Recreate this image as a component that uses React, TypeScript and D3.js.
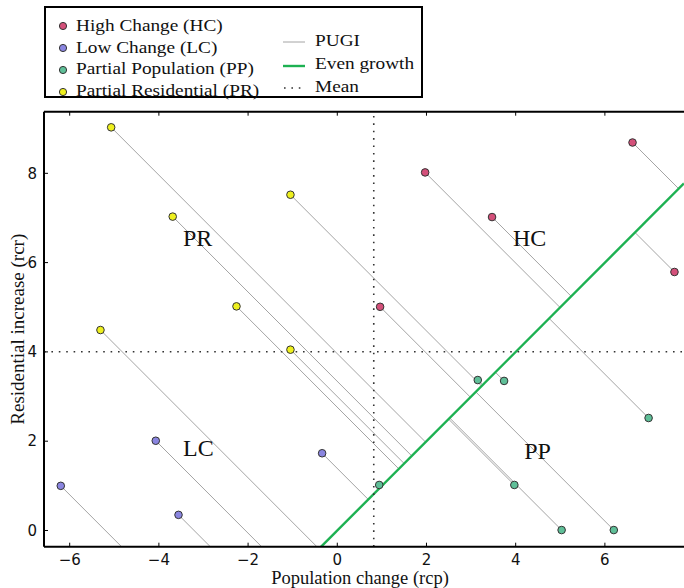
import React from "react";
import * as d3 from "d3";

// ---- data ----
const hcX = [0.96, 1.97, 3.47, 6.62, 7.56];
const hcY = [5.01, 8.02, 7.02, 8.69, 5.79];
const lcX = [-6.2, -4.07, -3.56, -0.34];
const lcY = [1.0, 2.01, 0.35, 1.73];
const ppX = [0.94, 3.15, 3.74, 6.98, 3.97, 5.03, 6.2];
const ppY = [1.02, 3.37, 3.35, 2.52, 1.02, 0.01, 0.01];
const prX = [-5.07, -3.69, -1.05, -2.26, -5.31, -1.05];
const prY = [9.03, 7.03, 7.52, 5.02, 4.49, 4.05];

const groupNames = ["High Change (HC)", "Low Change (LC)", "Partial Population (PP)", "Partial Residential (PR)"];
const groupShort = ["HC", "LC", "PP", "PR"];
const groupColors = ["#d4507a", "#8a85e0", "#5fbf98", "#eef01e"];
const regionLabelX = [3.94, -3.46, 4.19, -3.46];
const regionLabelY = [6.37, 1.67, 1.6, 6.37];

const xTicks = [-6, -4, -2, 0, 2, 4, 6];
const yTicks = [0, 2, 4, 6, 8];
const xDomain = [-6.576, 7.774];
const yDomain = [-0.363, 9.38];

const groups = [
  { xs: hcX, ys: hcY },
  { xs: lcX, ys: lcY },
  { xs: ppX, ys: ppY },
  { xs: prX, ys: prY },
];

export default function App() {
  const W = 684, H = 588;
  const left = 44, right = 684, top = 111.7, bottom = 546.7;
  const x = d3.scaleLinear().domain(xDomain).range([left, right]);
  const y = d3.scaleLinear().domain(yDomain).range([bottom, top]);

  const allX = groups.flatMap((g) => g.xs);
  const allY = groups.flatMap((g) => g.ys);
  const meanX = d3.mean(allX) as number;
  const meanY = d3.mean(allY) as number;

  const line = d3.line<[number, number]>().x((d) => x(d[0])).y((d) => y(d[1]));

  const serif = "'Liberation Serif', 'Times New Roman', serif";
  const sans = "'DejaVu Sans', sans-serif";
  const sx = 1.17;

  const LegendText = ({ tx, ty, children }: { tx: number; ty: number; children: React.ReactNode }) => (
    <text transform={`translate(${tx},${ty}) scale(${sx},1)`} dy="0.33em" fontFamily={serif} fontSize={16.5} fill="#111">
      {children}
    </text>
  );

  return (
    <svg width={W} height={H} style={{ position: "absolute", left: 0, top: 0, background: "#fff" }}>
      <defs>
        <clipPath id="plot">
          <rect x={left} y={top} width={right - left} height={bottom - top} />
        </clipPath>
      </defs>
      <rect x={0} y={0} width={W} height={H} fill="#fff" />
      <g clipPath="url(#plot)">
        {/* PUGI lines: projection of each point onto even growth line */}
        {groups.map((g, gi) =>
          g.xs.map((xv, i) => {
            const yv = g.ys[i];
            const p = (xv + yv) / 2;
            return (
              <path
                key={`p${gi}-${i}`}
                d={line([[xv, yv], [p, p]]) as string}
                stroke="#a4a4a4"
                strokeWidth={1}
                fill="none"
              />
            );
          })
        )}
        {/* Even growth */}
        <path d={line([[xDomain[0], xDomain[0]], [xDomain[1], xDomain[1]]]) as string} stroke="#1db152" strokeWidth={2.4} fill="none" />
        {/* Means */}
        <path d={line([[meanX, yDomain[0]], [meanX, yDomain[1]]]) as string} stroke="#333" strokeWidth={1.6} strokeDasharray="1.6,5.8" fill="none" />
        <path d={line([[xDomain[0], meanY], [xDomain[1], meanY]]) as string} stroke="#333" strokeWidth={1.6} strokeDasharray="1.6,5.8" fill="none" />
        {/* points */}
        {groups.map((g, gi) =>
          g.xs.map((xv, i) => (
            <circle key={`c${gi}-${i}`} cx={x(xv)} cy={y(g.ys[i])} r={3.8} fill={groupColors[gi]} stroke="#333" strokeWidth={1} />
          ))
        )}
      </g>
      {/* region labels */}
      {groupShort.map((s, i) => (
        <text key={s} x={x(regionLabelX[i])} y={y(regionLabelY[i])} fontFamily={serif} fontSize={24} fill="#111">
          {s}
        </text>
      ))}
      {/* spines */}
      <line x1={left} x2={left} y1={top} y2={bottom} stroke="#000" strokeWidth={2} />
      <line x1={left} x2={right} y1={top} y2={top} stroke="#000" strokeWidth={2} />
      <line x1={left} x2={right} y1={bottom} y2={bottom} stroke="#000" strokeWidth={2} />
      {/* ticks */}
      {xTicks.map((t) => (
        <g key={`xt${t}`}>
          <line x1={x(t)} x2={x(t)} y1={bottom} y2={bottom - 4} stroke="#000" strokeWidth={1} />
          <line x1={x(t)} x2={x(t)} y1={top} y2={top + 4} stroke="#000" strokeWidth={1} />
          <text x={x(t)} y={565} textAnchor="middle" fontFamily={sans} fontSize={15} fill="#111">
            {t < 0 ? `\u2212${Math.abs(t)}` : `${t}`}
          </text>
        </g>
      ))}
      {yTicks.map((t) => (
        <g key={`yt${t}`}>
          <line x1={left} x2={left + 4} y1={y(t)} y2={y(t)} stroke="#000" strokeWidth={1} />
          <text x={37} y={y(t)} dy="0.35em" textAnchor="end" fontFamily={sans} fontSize={15} fill="#111">
            {t}
          </text>
        </g>
      ))}
      {/* axis labels */}
      <text x={360} y={583.5} textAnchor="middle" fontFamily={serif} fontSize={18.5} fill="#111">
        Population change (rcp)
      </text>
      <text transform={`translate(24,${(top + bottom) / 2}) rotate(-90)`} textAnchor="middle" fontFamily={serif} fontSize={19} fill="#111">
        Residential increase (rcr)
      </text>
      {/* legend */}
      <rect x={45} y={7} width={377} height={90} fill="#fff" stroke="#000" strokeWidth={2} />
      {groupNames.map((n, i) => (
        <g key={n}>
          <circle cx={63} cy={26 + i * 22} r={3.6} fill={groupColors[i]} stroke="#333" strokeWidth={1} />
          <LegendText tx={76} ty={25.5 + i * 21.6}>{n}</LegendText>
        </g>
      ))}
      <line x1={283} x2={305} y1={42} y2={42} stroke="#a4a4a4" strokeWidth={1} />
      <LegendText tx={315} ty={41}>PUGI</LegendText>
      <line x1={283} x2={305} y1={66} y2={66} stroke="#1db152" strokeWidth={2.4} />
      <LegendText tx={315} ty={64}>Even growth</LegendText>
      <line x1={284} x2={305} y1={88} y2={88} stroke="#333" strokeWidth={1.6} strokeDasharray="1.6,5.8" />
      <LegendText tx={315} ty={87}>Mean</LegendText>
    </svg>
  );
}
